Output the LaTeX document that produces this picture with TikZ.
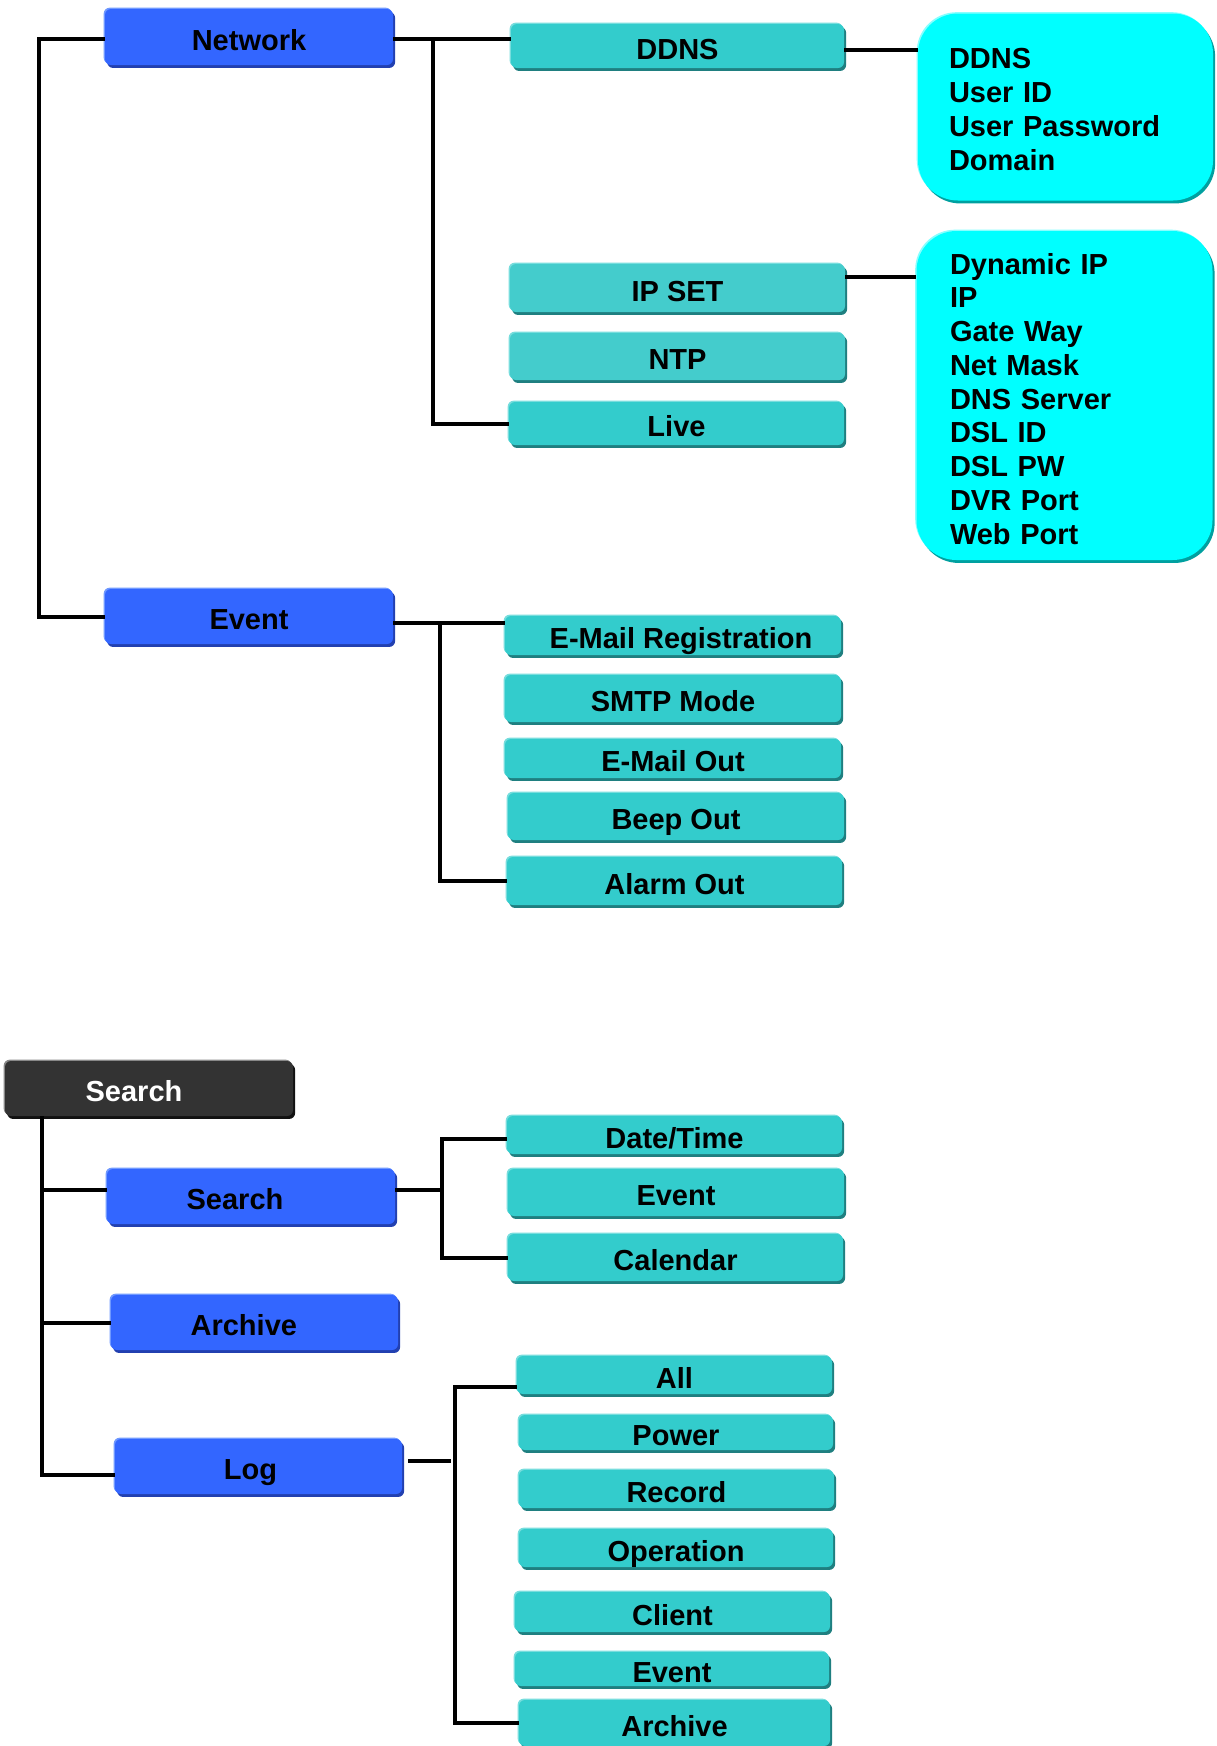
\documentclass[tikz,border=0pt]{standalone}
\usepackage{fontspec}
\setmainfont{Liberation Sans}
\definecolor{blueM}{HTML}{3366FF}
\definecolor{blueL}{HTML}{7099FF}
\definecolor{blueD}{HTML}{2240B0}
\definecolor{tealM}{HTML}{33CCCC}
\definecolor{tealT}{HTML}{44CCCC}
\definecolor{tealL}{HTML}{77DDDD}
\definecolor{tealD}{HTML}{1F7F80}
\definecolor{cyanM}{HTML}{00FFFF}
\definecolor{cyanL}{HTML}{88FFFF}
\definecolor{cyanD}{HTML}{00A0A0}
\definecolor{darkM}{HTML}{333333}
\definecolor{darkL}{HTML}{888888}
\definecolor{darkD}{HTML}{111111}
\tikzset{
  bev/.style n args={3}{fill=#1,
    preaction={fill=#3, transform canvas={shift={(1.6pt,-2.2pt)}}},
    preaction={fill=#2, transform canvas={shift={(-1pt,1pt)}}}},
  basebox/.style={rounded corners=4.5pt, inner sep=0pt, text=black,
    font=\bfseries\fontsize{21.75}{25.3}\selectfont},
  plainbox/.style={basebox, text height=19.5pt, text depth=0pt},
  bluebox/.style={plainbox, bev={blueM}{blueL}{blueD}},
  tealbox/.style={plainbox, bev={tealM}{tealL}{tealD}},
  tealtbox/.style={plainbox, bev={tealT}{tealL}{tealD}},
  darkbox/.style={plainbox, bev={darkM}{darkL}{darkD}, text=white},
  infobox/.style={basebox, rounded corners=30pt, bev={cyanM}{cyanL}{cyanD}, align=left},
  conn/.style={line width=3pt, black},
}
\newcommand\tbx[7]{\node[#6, minimum width={(#4-#2-3)*0.75pt}, minimum height={(#5-#3-4)*0.75pt}] (#1) at ({(#2+#4-1)/2},{(#3+#5-2)/2}) {#7};}
\begin{document}
\begin{tikzpicture}[x=0.75pt, y=-0.75pt]
\fill[white] (0,0) rectangle (1217,1746);
\useasboundingbox (0,0) rectangle (1217,1746);

% ---- upper tree ----
\tbx{net}{104}{8}{395}{68}{bluebox}{Network}
\tbx{ev}{104}{588}{395}{647}{bluebox}{Event}
\tbx{dd}{510}{23}{846}{71}{tealbox}{DDNS}
\tbx{ip}{509}{263}{847}{315}{tealtbox}{IP SET}
\tbx{ntp}{509}{332}{847}{383}{tealtbox}{NTP}
\tbx{live}{508}{401}{846}{448}{tealbox}{Live}
\node[infobox, minimum width=221.25pt, minimum height=140.25pt, text width=174.75pt] (d1) at (1065.5,107) {\rule{0pt}{18.9pt}DDNS\\User ID\\User Password\\Domain};
\node[infobox, minimum width=222pt, minimum height=246.75pt, text width=171.75pt] (d2) at (1064.5,395.5) {\rule{0pt}{20.6pt}Dynamic IP\\IP\\Gate Way\\Net Mask\\DNS Server\\DSL ID\\DSL PW\\DVR Port\\Web Port};
\tbx{emr}{504}{615}{843}{658}{tealbox}{\hspace*{12pt}E-Mail Registration}
\tbx{smtp}{504}{674}{843}{725}{tealbox}{SMTP Mode}
\tbx{emo}{504}{738}{843}{781}{tealbox}{E-Mail Out}
\tbx{beep}{507}{792}{846}{843}{tealbox}{Beep Out}
\tbx{alarm}{506}{856}{844}{908}{tealbox}{Alarm Out}

\draw[conn] ([yshift=-1.5pt]net.west) -- ++(-66,0) |- (ev.west);
\draw[conn] ([yshift=-1.5pt]net.east) -- ([yshift=-1.5pt]net.east -| dd.west);
\draw[conn] ([yshift=-1.5pt]net.east) ++(40,0) |- (live.west);
\draw[conn] ([yshift=-3pt]dd.east) -- ([yshift=-3pt]dd.east -| d1.west);
\draw[conn] ([yshift=8pt]ip.east) -- ([yshift=8pt]ip.east -| d2.west);
\draw[conn] ([yshift=-5pt]ev.east) -- ([yshift=-5pt]ev.east -| emr.west);
\draw[conn] ([yshift=-5pt]ev.east) ++(47,0) |- (alarm.west);

% ---- lower tree ----
\tbx{s0}{4}{1060}{295}{1119}{darkbox}{\hspace*{-22.5pt}Search}
\tbx{sb}{106}{1168}{397}{1227}{bluebox}{\hspace*{-24pt}Search}
\tbx{ar}{110}{1294}{400}{1353}{bluebox}{\hspace*{-16pt}Archive}
\tbx{log}{114}{1438}{404}{1497}{bluebox}{\hspace*{-12pt}Log}
\tbx{dt}{506}{1115}{844}{1157}{tealbox}{Date/Time}
\tbx{sev}{507}{1168}{846}{1219}{tealbox}{Event}
\tbx{cal}{507}{1233}{845}{1284}{tealbox}{Calendar}
\tbx{all}{516}{1355}{834}{1397}{tealbox}{All}
\tbx{pow}{518}{1414}{835}{1453}{tealbox}{Power}
\tbx{rec}{518}{1469}{836}{1511}{tealbox}{Record}
\tbx{op}{518}{1528}{835}{1570}{tealbox}{Operation}
\tbx{cli}{514}{1591}{832}{1635}{tealbox}{Client}
\tbx{lev}{514}{1651}{831}{1689}{tealbox}{Event}
\tbx{larc}{518}{1699}{832}{1749}{tealbox}{Archive}

\coordinate (tr) at ([xshift=27.75pt]s0.south west);
\draw[conn] (tr) |- ([yshift=-6pt]log.west);
\draw[conn] (tr) |- ([yshift=5pt]sb.west);
\draw[conn] (tr) |- (ar.west);
\draw[conn] ([yshift=5pt]sb.east) -- ++(46,0);
\draw[conn] ([yshift=-3pt]dt.west) -- ++(-65,0) |- (cal.west);
\draw[conn] ([xshift=4.5pt,yshift=4pt]log.east) -- ++(43,0);
\draw[conn] ([yshift=-9pt]all.west) -- ++(-62,0) |- (larc.west);
\end{tikzpicture}
\end{document}
